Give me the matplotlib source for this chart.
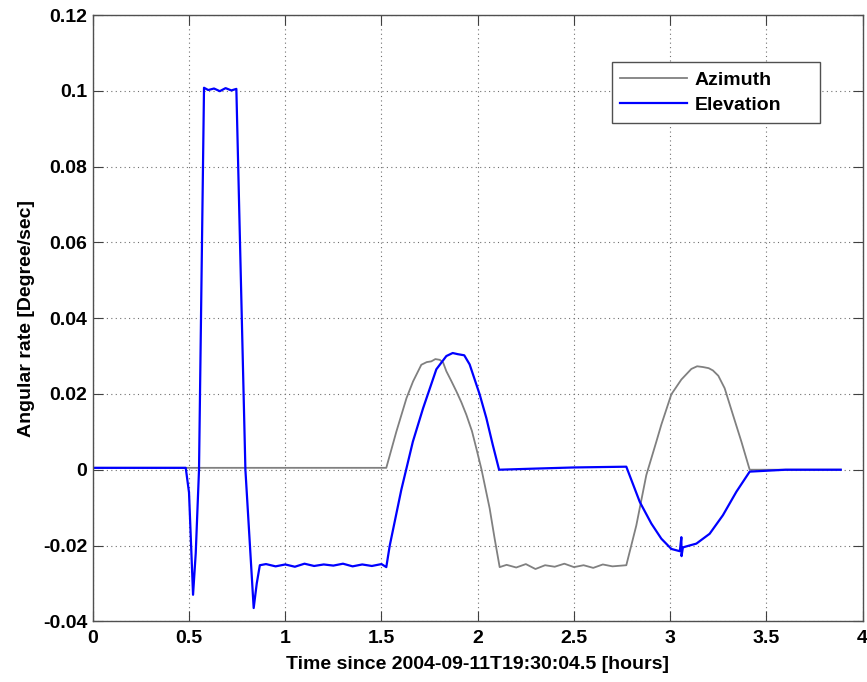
import numpy as np
import matplotlib
matplotlib.use('Agg')
import matplotlib.pyplot as plt
from matplotlib.ticker import FormatStrFormatter

plt.rcParams['font.family'] = ['Liberation Sans', 'DejaVu Sans']

# Azimuth rate (gray)
az_t = [0.0, 0.5, 1.0, 1.525, 1.577, 1.63, 1.664, 1.707, 1.735, 1.759, 1.78, 1.803,
        1.82, 1.837, 1.862, 1.889, 1.915, 1.941, 1.97, 1.993, 2.02, 2.062, 2.088, 2.114,
        2.15, 2.2, 2.25, 2.3, 2.35, 2.4, 2.45, 2.5, 2.55, 2.6, 2.65, 2.7, 2.772,
        2.824, 2.876, 2.928, 2.954, 3.006, 3.058, 3.11, 3.14, 3.17, 3.2, 3.222, 3.25,
        3.283, 3.326, 3.37, 3.413, 3.6, 3.886]
az_v = [0.0005, 0.0005, 0.0005, 0.0005, 0.010, 0.0189, 0.0233, 0.0277, 0.0284, 0.0286, 0.0292, 0.029,
        0.0283, 0.026, 0.0235, 0.0207, 0.0178, 0.0145, 0.0102, 0.0056, 0.0, -0.0102, -0.0182, -0.0257,
        -0.0251, -0.0258, -0.0249, -0.0262, -0.0252, -0.0256, -0.0248, -0.0257, -0.0252, -0.0259, -0.0250, -0.0255, -0.0252,
        -0.0147, -0.0014, 0.0074, 0.0119, 0.0199, 0.0238, 0.0266, 0.0273, 0.0271, 0.0268, 0.0262, 0.0248,
        0.0215, 0.0145, 0.0074, 0.0, 0.0, 0.0]

# Elevation rate (blue)
el_t = [0.0, 0.3, 0.483, 0.50, 0.521, 0.535, 0.552, 0.578, 0.60, 0.63, 0.66, 0.69, 0.72, 0.746,
        0.793, 0.836, 0.852, 0.868, 0.9, 0.95, 1.0, 1.05, 1.1, 1.15, 1.2, 1.25, 1.3, 1.35,
        1.4, 1.45, 1.5, 1.525, 1.543, 1.603, 1.663, 1.716, 1.785, 1.837, 1.87, 1.896, 1.93,
        1.958, 2.01, 2.045, 2.078, 2.111, 2.3, 2.5, 2.772, 2.842, 2.902, 2.954, 3.006, 3.05,
        3.058, 3.059, 3.066, 3.1, 3.136, 3.205, 3.274, 3.344, 3.413, 3.6, 3.886]
el_v = [0.0005, 0.0005, 0.0005, -0.006, -0.033, -0.022, 0.0, 0.1008, 0.1002, 0.1006, 0.0999, 0.1007, 0.1001, 0.1005,
        0.0, -0.0365, -0.030, -0.0252, -0.0249, -0.0255, -0.0250, -0.0256, -0.0248, -0.0254, -0.0250, -0.0253, -0.0248, -0.0255,
        -0.0250, -0.0254, -0.0249, -0.0257, -0.020, -0.0053, 0.0074, 0.0162, 0.0265, 0.030, 0.0308, 0.0305, 0.0302,
        0.0278, 0.0199, 0.0136, 0.0066, 0.0, 0.0003, 0.0006, 0.0008, -0.0085, -0.0142, -0.0182, -0.0209, -0.0215,
        -0.0178, -0.0228, -0.0205, -0.0200, -0.0195, -0.0169, -0.012, -0.0058, -0.0005, 0.0, 0.0]

fs = 14

fig = plt.figure(figsize=(8.67, 6.82), dpi=100)
ax = fig.add_axes([0.107, 0.089, 0.888, 0.889])

ax.plot(az_t, az_v, color=(0.5, 0.5, 0.5), linewidth=1.3, label='Azimuth')
ax.plot(el_t, el_v, color=(0, 0, 1), linewidth=1.6, label='Elevation')

ax.set_xlim(0, 4)
ax.set_ylim(-0.04, 0.12)
ax.set_xticks(np.arange(0, 4.01, 0.5))
ax.set_yticks(np.arange(-0.04, 0.1201, 0.02))
ax.xaxis.set_major_formatter(FormatStrFormatter('%g'))
ax.yaxis.set_major_formatter(plt.FuncFormatter(lambda v, p: '%g' % round(v, 4)))

ax.grid(True, color='#707070', linestyle=(0, (1, 3)), linewidth=0.8)
ax.tick_params(direction='in', length=7, width=0.8, top=True, right=True,
               labelsize=fs, colors='#404040', labelcolor='black', pad=4)
ax.tick_params(axis='x', pad=6)
for lbl in ax.get_xticklabels() + ax.get_yticklabels():
    lbl.set_fontweight('bold')
for s in ax.spines.values():
    s.set_color('#505050')
    s.set_linewidth(1.0)

ax.set_xlabel('Time since 2004-09-11T19:30:04.5 [hours]', fontsize=fs, fontweight='bold', labelpad=7)
ax.set_ylabel('Angular rate [Degree/sec]', fontsize=fs, fontweight='bold', labelpad=6)

leg = ax.legend(loc='upper left', bbox_to_anchor=(0.674, 0.822, 0.27, 0.1), mode='expand',
                borderaxespad=0, fancybox=False, framealpha=1, edgecolor='#505050',
                handlelength=3.4, handletextpad=0.4, labelspacing=0.4, borderpad=0.45,
                prop={'size': fs, 'weight': 'bold'})
leg.get_frame().set_linewidth(1.0)

fig.savefig('out.png', dpi=100)
